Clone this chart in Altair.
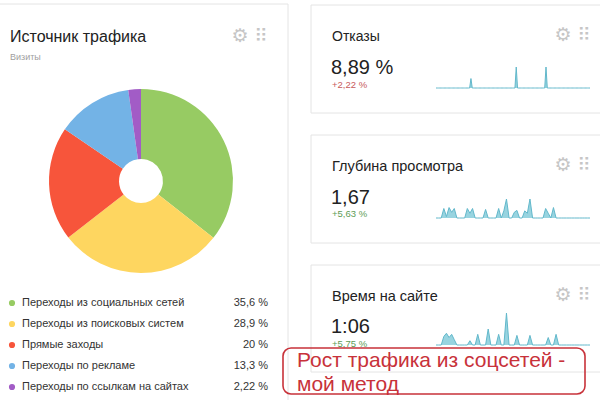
import altair as alt
import pandas as pd

# ---------------- data ----------------
sources = ["Переходы из социальных сетей", "Переходы из поисковых систем",
           "Прямые заходы", "Переходы по рекламе", "Переходы по ссылкам на сайтах"]
shares = [35.6, 28.9, 20.0, 13.3, 2.22]
share_labels = ["35,6 %", "28,9 %", "20 %", "13,3 %", "2,22 %"]
colors = ["#97cb63", "#fed660", "#f7553b", "#73b3e6", "#a25cc6"]

bounce_series = [0, 0, 0, 0, 0, 0, 0, 0, 0, 0, 0, 0, 0, 0, 0, 0, 0, 0, 0, 0,
                 0, 0, 0, 0, 0, 0, 0, 45, 0, 0, 0, 0, 0, 0, 0, 0, 0, 0, 0, 0,
                 0, 0, 0, 0, 0, 0, 0, 0, 0, 0, 0, 0, 0, 0, 0, 0, 0, 0, 0, 0,
                 0, 0, 100, 0, 0, 0, 0, 0, 0, 0, 0, 0, 0, 0, 0, 0, 0, 0, 0, 0,
                 0, 0, 0, 0, 0, 100, 0, 0, 0, 0, 0, 0, 0, 0, 0, 0, 0, 0, 0, 0,
                 0, 0, 0, 0, 0, 0, 0, 0, 0, 0, 0, 0, 0, 0, 0, 0, 0, 0, 0, 0]
depth_series = [0, 0, 0, 2.0, 0.3, 2.2, 1.2, 2.0, 0, 0, 0, 0, 2.0, 1.0, 2.0, 0, 0, 0, 0, 1.8,
                0, 0, 0, 0, 2.0, 0, 1.5, 4.0, 0, 0, 1.2, 1.6, 0, 0, 1.5, 1.0, 4.0, 0, 0, 0,
                0, 0, 2.0, 1.0, 0, 2.2, 0, 0, 0, 0, 0, 0, 0, 0, 0, 0, 0, 0, 0, 0]
time_series = [0, 0, 0, 80, 110, 70, 100, 50, 0, 0, 0, 0, 0, 40, 0, 0, 100, 0, 0, 0,
               150, 0, 0, 0, 100, 0, 0, 300, 0, 0, 0, 90, 0, 0, 0, 0, 90, 0, 0, 0,
               0, 0, 0, 70, 0, 0, 100, 0, 0, 0, 0, 0, 0, 0, 0, 0, 0, 0, 0, 0]

pie_df = pd.DataFrame({"source": sources, "share": shares, "label": share_labels,
                       "idx": list(range(len(sources)))})
ONE = pd.DataFrame({"a": [0]})

FONT = "Liberation Sans"
color_scale = alt.Scale(domain=sources, range=colors)


def txt(s, x, y, size, color="#222222", align="left", font=FONT, weight="normal"):
    return alt.Chart(pd.DataFrame({"t": [s]})).mark_text(
        x=x, y=y, fontSize=size, color=color, align=align, baseline="alphabetic",
        font=font, fontWeight=weight).encode(text="t:N")


def box(x, x2, y, y2, stroke="#e4e4e4", fill="#ffffff", sw=1, radius=0, fillop=1.0):
    return alt.Chart(ONE).mark_rect(stroke=stroke, fill=fill, strokeWidth=sw,
                                    cornerRadius=radius, fillOpacity=fillop).encode(
        x=alt.value(x), x2=alt.value(x2), y=alt.value(y), y2=alt.value(y2))


def spark(series, top_val, y_base, y_top):
    df = pd.DataFrame({"i": list(range(len(series))), "v": series})
    return alt.Chart(df).mark_area(
        color="#8dcfdd", opacity=0.9,
        line={"color": "#62b8cb", "strokeWidth": 1}).encode(
        x=alt.X("i:Q", scale=alt.Scale(domain=[0, len(series) - 1], range=[436, 590]), axis=None),
        y=alt.Y("v:Q", scale=alt.Scale(domain=[0, top_val], range=[y_base, y_top]), axis=None))


def icons(x, y):
    return [txt("⚙", x, y, 19, color="#c6c6c6", align="center", font="DejaVu Sans"),
            txt("⠿", x + 21, y, 18, color="#c6c6c6", align="center", font="DejaVu Sans")]


layers = []
# cards
layers.append(box(-5, 288, 4, 410))
layers.append(box(311, 610, 5, 113))
layers.append(box(311, 610, 135, 243))
layers.append(box(311, 610, 265, 372))

# left card: title
layers.append(txt("Источник трафика", 10, 42, 16))
layers.append(txt("Визиты", 10, 60, 9, color="#a0a0a0"))
layers += icons(240, 42)

# donut
pie = alt.Chart(pie_df).mark_arc(x=141, y=181, innerRadius=22, outerRadius=92).encode(
    theta=alt.Theta("share:Q", stack=True),
    color=alt.Color("source:N", scale=color_scale, legend=None),
    order=alt.Order("idx:Q"))
layers.append(pie)

# legend rows
ly = alt.Y("idx:Q", scale=alt.Scale(domain=[0, 4], range=[303, 387]), axis=None)
layers.append(alt.Chart(pie_df).mark_circle(x=12, size=38, opacity=1).encode(
    y=ly, color=alt.Color("source:N", scale=color_scale, legend=None)))
layers.append(alt.Chart(pie_df).mark_text(x=22, align="left", baseline="middle", fontSize=11,
                                          color="#333333", font=FONT).encode(y=ly, text="source:N"))
layers.append(alt.Chart(pie_df).mark_text(x=268, align="right", baseline="middle", fontSize=11,
                                          color="#333333", font=FONT).encode(y=ly, text="label:N"))

# right card 1
layers.append(txt("Отказы", 332, 41, 14))
layers.append(txt("8,89 %", 331, 74, 20))
layers.append(txt("+2,22 %", 332, 88, 9.5, color="#c85a5a"))
layers += icons(563, 41)
layers.append(spark(bounce_series, 100, 88, 67))

# right card 2
layers.append(txt("Глубина просмотра", 332, 171, 14.5))
layers.append(txt("1,67", 331, 204, 20))
layers.append(txt("+5,63 %", 332, 217, 9.5, color="#5e9c55"))
layers += icons(563, 171)
layers.append(spark(depth_series, 4, 218, 199))

# right card 3
layers.append(txt("Время на сайте", 332, 301, 14.5))
layers.append(txt("1:06", 331, 333, 20))
layers.append(txt("+5,75 %", 332, 347, 9.5, color="#5e9c55"))
layers += icons(563, 301)
layers.append(spark(time_series, 300, 345, 313))

# annotation
layers.append(box(283, 585, 348, 394, stroke="#c8323a", fill="#ffffff", sw=1.6, radius=8, fillop=0))
layers.append(txt("Рост трафика из соцсетей -", 297, 367, 21, color="#c8323a"))
layers.append(txt("мой метод", 297, 391, 21, color="#c8323a"))

chart = alt.layer(*layers).resolve_scale(
    x="independent", y="independent", color="independent", theta="independent"
).properties(
    width=600, height=400, padding=0, autosize=alt.AutoSizeParams(type="none"),
    background="#ffffff"
).configure_view(stroke=None)

chart.save("out.html", embed_options={"renderer": "svg", "actions": False})
